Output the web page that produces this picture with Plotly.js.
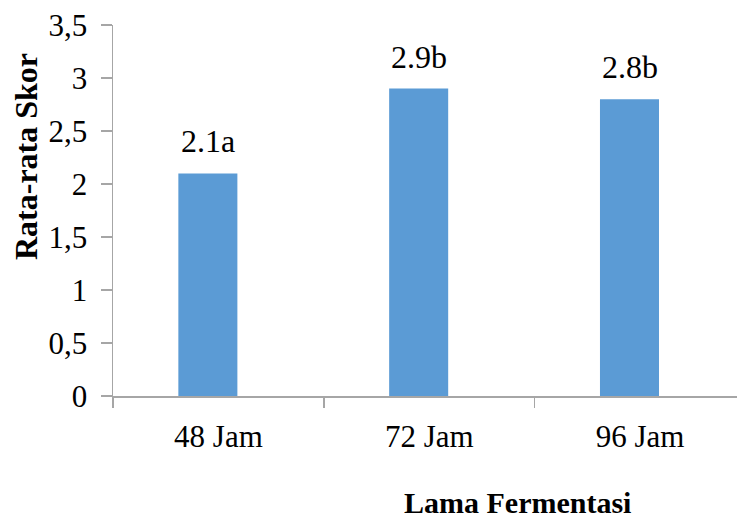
<!DOCTYPE html>
<html>
<head>
<meta charset="utf-8">
<script src="https://cdn.plot.ly/plotly-3.0.1.min.js"></script>
<style>
  html, body { margin: 0; padding: 0; background: #ffffff; }
  #chart { width: 737px; height: 522px; }
</style>
</head>
<body>
<div id="chart"></div>
<script>
// Fermentation time groups and their mean scores
const categories = ['48 Jam', '72 Jam', '96 Jam'];
const meanScores = [2.1, 2.9, 2.8];
const scoreLabels = ['2.1a', '2.9b', '2.8b'];

const serif = 'Liberation Serif, Times New Roman, serif';
const axisGrey = '#a6a6a6';

const barTrace = {
  type: 'bar',
  x: categories,
  y: meanScores,
  width: 0.28,
  offset: -0.19,
  marker: { color: '#5b9bd5', line: { width: 0 } },
  hoverinfo: 'x+y',
  showlegend: false
};

// value labels sit above each bar
const valueNotes = categories.map((c, i) => ({
  x: c,
  y: meanScores[i],
  xref: 'x',
  yref: 'y',
  text: scoreLabels[i],
  showarrow: false,
  xanchor: 'center',
  yanchor: 'bottom',
  xshift: -10,
  yshift: 12,
  font: { family: serif, size: 32, color: '#000000' }
}));

const layout = {
  width: 737,
  height: 522,
  margin: { l: 113, r: 0, t: 25, b: 126, pad: 0 },
  paper_bgcolor: '#ffffff',
  plot_bgcolor: '#ffffff',
  separators: ',.',
  bargap: 0.72,
  xaxis: {
    type: 'category',
    range: [-0.5, 2.46],
    showgrid: false,
    zeroline: false,
    showline: true,
    linecolor: axisGrey,
    linewidth: 1.5,
    ticks: 'outside',
    tickson: 'boundaries',
    ticklen: 10,
    tickwidth: 1.5,
    tickcolor: axisGrey,
    ticklabelstandoff: 12,
    tickfont: { family: serif, size: 31, color: '#000000' }
  },
  yaxis: {
    range: [0, 3.5],
    dtick: 0.5,
    tick0: 0,
    showgrid: false,
    zeroline: false,
    showline: true,
    linecolor: axisGrey,
    linewidth: 1.5,
    ticks: 'outside',
    ticklen: 11,
    tickwidth: 1.5,
    tickcolor: axisGrey,
    ticklabelstandoff: 7,
    tickfont: { family: serif, size: 31, color: '#000000' }
  },
  annotations: valueNotes.concat([
    {
      text: '<b>Lama Fermentasi</b>',
      xref: 'paper', yref: 'paper',
      x: (517 - 113) / 624, y: -0.288,
      xanchor: 'center', yanchor: 'middle',
      showarrow: false,
      font: { family: serif, size: 30, color: '#000000' }
    },
    {
      text: '<b>Rata-rata Skor</b>',
      xref: 'paper', yref: 'paper',
      x: 0, xshift: -87,
      y: (396 - 157) / 371,
      xanchor: 'center', yanchor: 'middle',
      textangle: -90,
      showarrow: false,
      font: { family: serif, size: 32, color: '#000000' }
    }
  ])
};

Plotly.newPlot('chart', [barTrace], layout, { displayModeBar: false, staticPlot: true });
</script>
</body>
</html>
